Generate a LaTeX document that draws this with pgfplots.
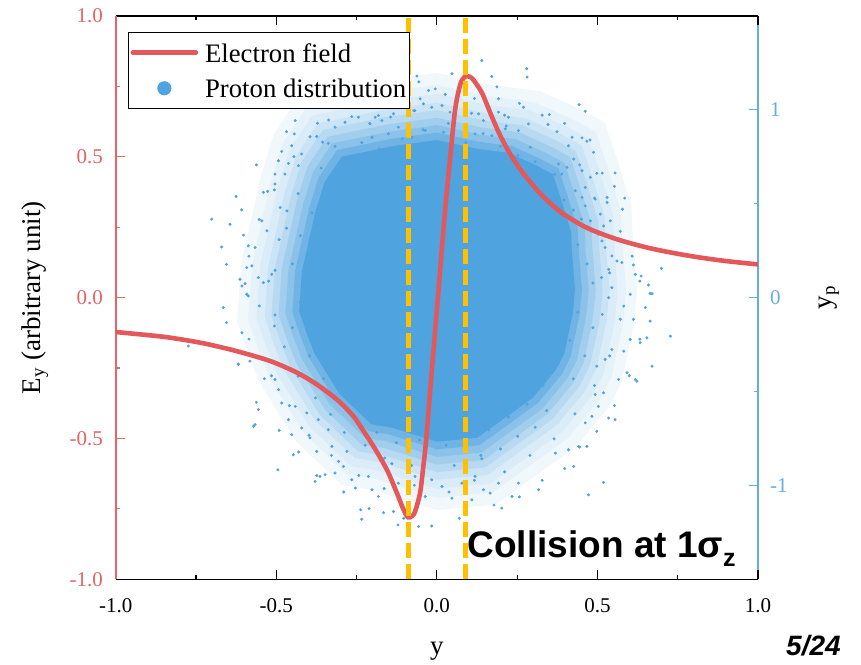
\documentclass[border=0pt]{standalone}
\usepackage{fontspec}
\setmainfont{Liberation Serif}
\newfontfamily\arialfont{Liberation Sans}
\usepackage{pgfplots}
\pgfplotsset{compat=1.18}
\definecolor{protonblue}{RGB}{79,163,222}
\definecolor{efred}{RGB}{227,88,90}
\definecolor{axred}{RGB}{228,100,100}
\definecolor{axblue}{RGB}{100,172,225}
\definecolor{gold}{RGB}{255,192,0}
\pgfplotsset{
  common/.style={at={(115.7pt,84.7pt)}, anchor=south west, scale only axis,
    width=642.3pt, height=563.3pt, xmin=-1, xmax=1,
    tick align=inside, major tick length=9.5pt, minor tick length=4.5pt,
    /pgf/number format/assume math mode=true,
    tick label style={font=\fontsize{21}{21}\selectfont},
  },
  env/.style={fill=protonblue!#1, draw=none},
}
\begin{document}
\begin{tikzpicture}
\path[use as bounding box] (0pt,0pt) rectangle (861pt,664pt);
% ---------------- proton distribution (right axis) ----------------
\begin{axis}[common, ymin=-1.5, ymax=1.5, axis x line=none, axis y line*=right,
  ytick={-1,0,1}, minor ytick={-0.5,0.5},
  y axis line style={axblue, line width=1.6pt},
  y tick style={axblue, line width=1.2pt},
  yticklabel style={text=axblue, inner sep=0pt, xshift=12pt},
  ylabel={y\textsubscript{p}},
  every axis y label/.style={at={(axis description cs:1.1105,0.5)}, anchor=center, rotate=90, font=\fontsize{27}{27}\selectfont},
]
% density envelopes of the proton cloud (outermost first)
\addplot[env=8] coordinates {
(0.624,0.044) (0.610,0.324) (0.606,0.488) (0.563,0.731) (0.523,0.933) (0.448,1.002) (0.322,1.100) (0.184,1.129) (0.000,1.197) (-0.194,1.152) (-0.429,1.069) (-0.508,0.869) (-0.548,0.647) (-0.609,0.185) (-0.622,-0.124) (-0.590,-0.284) (-0.552,-0.452) (-0.439,-0.765) (-0.296,-0.997) (-0.204,-1.023) (0.000,-1.132) (0.183,-1.102) (0.336,-0.913) (0.434,-0.793) (0.537,-0.580) (0.576,-0.449) (0.613,-0.145) (0.624,0.044)};
\addplot[env=14] coordinates {
(0.589,0.044) (0.577,0.308) (0.573,0.463) (0.532,0.693) (0.495,0.884) (0.423,0.950) (0.304,1.041) (0.174,1.069) (0.000,1.133) (-0.184,1.091) (-0.406,1.013) (-0.480,0.824) (-0.518,0.614) (-0.575,0.177) (-0.588,-0.115) (-0.558,-0.266) (-0.522,-0.425) (-0.415,-0.720) (-0.279,-0.940) (-0.193,-0.964) (0.000,-1.067) (0.173,-1.038) (0.318,-0.860) (0.410,-0.746) (0.507,-0.545) (0.544,-0.422) (0.580,-0.134) (0.589,0.044)};
\addplot[env=21] coordinates {
(0.563,0.044) (0.552,0.297) (0.548,0.445) (0.508,0.665) (0.473,0.847) (0.405,0.910) (0.291,0.998) (0.166,1.024) (0.000,1.085) (-0.176,1.045) (-0.388,0.970) (-0.459,0.789) (-0.495,0.589) (-0.550,0.171) (-0.562,-0.108) (-0.533,-0.252) (-0.499,-0.404) (-0.397,-0.687) (-0.267,-0.897) (-0.185,-0.920) (0.000,-1.018) (0.165,-0.991) (0.304,-0.821) (0.392,-0.712) (0.485,-0.519) (0.520,-0.401) (0.554,-0.126) (0.563,0.044)};
\addplot[env=30] coordinates {
(0.538,0.044) (0.526,0.285) (0.523,0.427) (0.485,0.637) (0.451,0.810) (0.386,0.870) (0.278,0.954) (0.159,0.979) (0.000,1.038) (-0.168,0.999) (-0.370,0.928) (-0.438,0.755) (-0.473,0.564) (-0.525,0.165) (-0.536,-0.101) (-0.509,-0.239) (-0.476,-0.384) (-0.379,-0.654) (-0.255,-0.854) (-0.176,-0.876) (0.000,-0.970) (0.158,-0.944) (0.290,-0.781) (0.374,-0.677) (0.463,-0.494) (0.496,-0.381) (0.529,-0.119) (0.538,0.044)};
\addplot[env=41] coordinates {
(0.516,0.044) (0.505,0.276) (0.502,0.411) (0.466,0.613) (0.433,0.780) (0.371,0.837) (0.266,0.918) (0.152,0.942) (0.000,0.998) (-0.161,0.961) (-0.355,0.892) (-0.420,0.727) (-0.454,0.543) (-0.504,0.160) (-0.515,-0.095) (-0.488,-0.227) (-0.457,-0.366) (-0.364,-0.626) (-0.245,-0.818) (-0.169,-0.839) (0.000,-0.929) (0.151,-0.904) (0.278,-0.748) (0.359,-0.648) (0.444,-0.472) (0.476,-0.364) (0.508,-0.112) (0.516,0.044)};
\addplot[env=53] coordinates {
(0.495,0.044) (0.484,0.266) (0.481,0.396) (0.446,0.589) (0.415,0.749) (0.355,0.804) (0.255,0.881) (0.146,0.904) (0.000,0.958) (-0.154,0.923) (-0.340,0.857) (-0.403,0.698) (-0.435,0.522) (-0.483,0.156) (-0.493,-0.089) (-0.468,-0.216) (-0.438,-0.349) (-0.348,-0.598) (-0.235,-0.782) (-0.162,-0.802) (0.000,-0.889) (0.145,-0.865) (0.267,-0.715) (0.344,-0.620) (0.426,-0.451) (0.457,-0.347) (0.486,-0.106) (0.495,0.044)};
\addplot[env=66] coordinates {
(0.473,0.044) (0.463,0.256) (0.460,0.381) (0.427,0.565) (0.397,0.718) (0.340,0.771) (0.244,0.845) (0.140,0.867) (0.000,0.919) (-0.147,0.884) (-0.326,0.822) (-0.385,0.670) (-0.416,0.502) (-0.462,0.151) (-0.472,-0.084) (-0.448,-0.205) (-0.419,-0.332) (-0.333,-0.570) (-0.224,-0.746) (-0.155,-0.766) (0.000,-0.848) (0.139,-0.825) (0.255,-0.682) (0.329,-0.591) (0.407,-0.429) (0.437,-0.330) (0.465,-0.099) (0.473,0.044)};
\addplot[env=82] coordinates {
(0.452,0.044) (0.442,0.247) (0.439,0.365) (0.407,0.542) (0.379,0.688) (0.324,0.738) (0.233,0.808) (0.133,0.829) (0.000,0.879) (-0.141,0.846) (-0.311,0.786) (-0.368,0.641) (-0.397,0.481) (-0.441,0.146) (-0.450,-0.078) (-0.427,-0.193) (-0.400,-0.315) (-0.318,-0.542) (-0.214,-0.710) (-0.148,-0.729) (0.000,-0.808) (0.132,-0.786) (0.244,-0.649) (0.314,-0.562) (0.389,-0.408) (0.417,-0.313) (0.444,-0.093) (0.452,0.044)};
% dense core
\addplot[env=100] coordinates {
(0.430,0.044) (0.421,0.237) (0.418,0.350) (0.388,0.518) (0.361,0.657) (0.309,0.705) (0.222,0.772) (0.127,0.792) (0.000,0.839) (-0.134,0.808) (-0.296,0.751) (-0.350,0.613) (-0.378,0.460) (-0.420,0.141) (-0.429,-0.072) (-0.407,-0.182) (-0.381,-0.298) (-0.303,-0.514) (-0.204,-0.674) (-0.141,-0.692) (0.000,-0.767) (0.126,-0.746) (0.232,-0.616) (0.299,-0.533) (0.370,-0.386) (0.397,-0.296) (0.423,-0.086) (0.430,0.044)};
% individual protons
\addplot[only marks, mark=*, mark size=1.3pt, protonblue, mark options={draw=none}] coordinates {
(-0.441,0.943) (-0.372,0.929) (-0.317,0.908) (-0.265,0.964) (-0.244,0.961) (-0.286,0.934) (-0.444,0.872) (-0.395,0.857) (-0.356,0.828) (-0.338,0.822) (-0.483,0.779) (-0.452,0.809) (-0.421,0.765) (-0.493,0.729) (-0.462,0.715) (-0.431,0.703) (-0.504,0.658) (-0.473,0.658) (-0.625,0.539) (-0.540,0.561) (-0.527,0.566) (-0.504,0.605) (-0.701,0.418) (-0.644,0.391) (-0.670,0.270) (-0.602,0.333) (-0.587,0.276) (-0.566,0.267) (-0.545,0.409) (-0.529,0.356) (-0.592,0.160) (-0.576,0.169) (-0.613,0.098) (-0.597,0.075) (-0.587,0.009) (-0.556,0.107) (-0.540,0.080) (-0.514,0.124) (-0.488,0.480) (-0.467,0.462)
(-0.607,-0.187) (-0.618,-0.356) (-0.582,-0.338) (-0.556,-0.596) (-0.566,-0.676) (-0.537,-0.432) (-0.504,-0.436) (-0.493,-0.490) (-0.483,-0.561) (-0.462,-0.650) (-0.452,-0.730) (-0.447,-0.837) (-0.495,-0.917) (-0.421,-0.694) (-0.395,-0.747) (-0.379,-0.979) (-0.364,-0.952) (-0.348,-0.943) (-0.317,-0.934) (-0.306,-0.872) (-0.291,-0.899) (-0.280,-0.819) (-0.265,-0.970) (-0.254,-1.014) (-0.237,-1.130) (-0.234,-1.180) (-0.374,-0.819) (-0.405,-0.614) (-0.369,-0.650) (-0.338,-0.703) (-0.327,-0.792) (-0.441,-0.579)
(-0.166,-1.145) (-0.121,-1.210) (-0.057,-1.219) (-0.016,-1.216) (-0.135,-1.139) (-0.036,-1.059) (0.047,-1.068) (0.109,-1.077) (0.145,-1.023) (0.166,-1.041) (0.192,-0.988) (0.202,-1.121) (0.234,-1.059) (0.254,-0.988) (-0.202,-1.023) (-0.182,-1.059) (0.016,-1.006) (0.078,-0.988) (0.119,-0.952) (-0.120,-0.988) (-0.068,-0.952) (-0.016,-0.970) (-0.213,-0.952)
(0.727,-0.205) (0.664,-0.125) (0.612,-0.116) (0.633,-0.240) (0.654,-0.214) (0.670,-0.365) (0.592,-0.400) (0.618,-0.436) (0.566,-0.436) (0.555,-0.650) (0.535,-0.641) (0.519,-0.507) (0.498,-0.712) (0.503,-0.579) (0.467,-0.792) (0.441,-0.792) (0.426,-0.899) (0.519,-0.984) (0.472,-1.050) (0.410,-0.810) (0.369,-0.828) (0.317,-1.023) (0.602,-0.223) (0.582,-0.285) (0.545,-0.276) (0.493,-0.516) (0.483,-0.632) (0.462,-0.667) (0.498,-0.365) (0.524,-0.329)
(0.443,1.028) (0.462,0.993) (0.350,0.975) (0.346,0.922) (0.421,0.854) (0.452,0.851) (0.467,0.833) (0.410,0.809) (0.488,0.774) (0.426,0.738) (0.555,0.664) (0.498,0.662) (0.478,0.641) (0.452,0.676) (0.578,0.471) (0.530,0.534) (0.530,0.507) (0.509,0.445) (0.493,0.525) (0.462,0.587) (0.540,0.409) (0.519,0.382) (0.514,0.302) (0.524,0.267) (0.545,0.222) (0.561,0.195) (0.576,0.187) (0.612,0.174) (0.618,0.124) (0.636,0.115) (0.699,0.156) (0.659,0.067) (0.670,0.021) (0.602,0.018) (0.582,-0.045) (0.535,0.151) (0.513,0.107) (0.545,0.053) (0.535,0.000) (0.379,0.712) (0.405,0.694) (0.389,0.658) (0.431,0.569) (0.452,0.534) (0.462,0.489) (0.478,0.409) (0.483,0.356) (0.503,0.338)
(-0.005,1.112) (0.026,1.082) (-0.026,1.103) (0.171,1.178) (0.270,1.014) (0.192,1.059) (-0.052,1.059) (-0.042,1.032) (-0.182,0.970) (-0.192,0.961) (-0.208,0.925) (-0.171,0.943) (-0.135,0.979) (-0.120,0.908) (-0.068,0.996) (-0.016,1.014) (0.016,1.023) (0.041,0.988) (0.130,0.979) (0.145,0.943) (0.192,0.988) (0.223,0.961) (0.285,0.925) (0.254,0.890) (0.213,0.899) (0.171,0.863) (0.119,0.872) (0.021,0.881) (-0.036,0.890) (-0.078,0.854) (-0.151,0.872) (-0.202,0.854) (0.291,0.801)
(0.280,1.219) (-0.062,1.180) (-0.665,-0.053) (-0.607,0.062) (-0.592,0.018) (-0.774,-0.258) (-0.571,-0.685) (0.623,-0.445) (0.664,0.023) (0.649,-0.053)
(0.414,0.112) (0.439,0.282) (0.378,0.418) (0.468,0.180) (0.342,0.554) (0.396,0.520) (0.288,0.690) (0.252,0.758) (0.198,0.806) (0.144,0.874) (0.090,0.826) (0.036,0.928) (0.306,0.724) (0.450,0.418) (0.486,0.078) (0.216,0.914) (0.108,0.982) (0.367,0.656) (0.425,0.466) (0.162,0.758)
(-0.043,0.894) (-0.108,0.846) (-0.180,0.792) (-0.234,0.826) (-0.288,0.670) (-0.342,0.588) (-0.389,0.452) (-0.425,0.330) (-0.450,0.180) (-0.403,0.078) (-0.144,0.962) (-0.259,0.738) (-0.360,0.690) (-0.468,0.370) (-0.504,0.146) (-0.072,0.996) (-0.317,0.806) (-0.432,0.554) (-0.209,0.928) (-0.378,0.248)
(-0.425,-0.024) (-0.450,-0.160) (-0.396,-0.310) (-0.353,-0.432) (-0.306,-0.554) (-0.252,-0.636) (-0.187,-0.718) (-0.126,-0.772) (-0.054,-0.758) (-0.475,-0.262) (-0.378,-0.534) (-0.288,-0.718) (-0.162,-0.854) (-0.079,-0.894) (-0.504,-0.092) (-0.223,-0.786) (-0.432,-0.418) (-0.331,-0.622) (-0.108,-0.670) (-0.389,-0.106)
(0.029,-0.786) (0.090,-0.738) (0.162,-0.704) (0.223,-0.636) (0.281,-0.568) (0.331,-0.466) (0.378,-0.350) (0.414,-0.228) (0.439,-0.078) (0.054,-0.894) (0.137,-0.840) (0.252,-0.738) (0.342,-0.602) (0.425,-0.432) (0.486,-0.160) (0.198,-0.806) (0.461,-0.310) (0.306,-0.690) (0.396,-0.058) (0.108,-0.650)
(0.538,0.132) (0.571,0.353) (0.491,0.530) (0.608,0.221) (0.445,0.707) (0.515,0.663) (0.374,0.884) (0.328,0.972) (0.257,1.035) (0.187,1.123) (0.117,1.061) (0.047,1.193) (0.398,0.928) (0.585,0.530) (0.632,0.088) (0.281,1.175) (0.140,1.263) (0.477,0.840) (0.553,0.593) (0.211,0.972)
(-0.056,1.149) (-0.140,1.087) (-0.234,1.016) (-0.304,1.061) (-0.374,0.858) (-0.445,0.751) (-0.506,0.574) (-0.553,0.416) (-0.585,0.221) (-0.524,0.088) (-0.187,1.237) (-0.337,0.946) (-0.468,0.884) (-0.608,0.468) (-0.655,0.177) (-0.094,1.282) (-0.412,1.035) (-0.562,0.707) (-0.272,1.193) (-0.491,0.309)
(-0.553,-0.044) (-0.585,-0.221) (-0.515,-0.416) (-0.459,-0.575) (-0.398,-0.733) (-0.328,-0.840) (-0.243,-0.947) (-0.164,-1.017) (-0.070,-0.999) (-0.618,-0.354) (-0.491,-0.707) (-0.374,-0.947) (-0.211,-1.123) (-0.103,-1.175) (-0.655,-0.133) (-0.290,-1.035) (-0.562,-0.557) (-0.430,-0.822) (-0.140,-0.884) (-0.506,-0.151)
(0.038,-1.035) (0.117,-0.973) (0.211,-0.928) (0.290,-0.840) (0.365,-0.752) (0.430,-0.619) (0.491,-0.468) (0.538,-0.310) (0.571,-0.115) (0.070,-1.175) (0.178,-1.105) (0.328,-0.973) (0.445,-0.796) (0.553,-0.575) (0.632,-0.221) (0.257,-1.061) (0.599,-0.416) (0.398,-0.910) (0.515,-0.089) (0.140,-0.858)
};
\end{axis}
% ---------------- electron field (left axis) ----------------
\begin{axis}[common, ymin=-1, ymax=1, axis y line*=left, axis x line*=box,
  xtick={-1,-0.5,0,0.5,1}, minor xtick={-0.75,-0.25,0.25,0.75},
  ytick={-1,-0.5,0,0.5,1}, minor ytick={-0.75,-0.25,0.25,0.75},
  xtick pos=both, xticklabel pos=lower,
  x axis line style={black, line width=1.6pt},
  y axis line style={axred, line width=1.6pt},
  x tick style={black, line width=1.2pt},
  y tick style={axred, line width=1.2pt},
  xticklabel style={/pgf/number format/fixed, /pgf/number format/fixed zerofill, /pgf/number format/precision=1, inner sep=0pt, yshift=-18.7pt},
  yticklabel style={/pgf/number format/fixed, /pgf/number format/fixed zerofill, /pgf/number format/precision=1, text=axred, inner sep=0pt, xshift=-12.7pt},
  xlabel={y},
  every axis x label/.style={at={(axis description cs:0.5,-0.128)}, anchor=center, font=\fontsize{27}{27}\selectfont},
  ylabel={E\textsubscript{y} (arbitrary unit)},
  every axis y label/.style={at={(axis description cs:-0.1256,0.5)}, anchor=center, rotate=90, font=\fontsize{27}{27}\selectfont},
  legend style={at={(0,1)}, anchor=north west, xshift=12.3pt, yshift=-16pt, draw=black, line width=1.1pt, fill=white,
    inner xsep=2pt, inner ysep=6pt, row sep=7.7pt, column sep=5.5pt,
    font=\fontsize{26.7}{26.7}\selectfont, nodes={inner sep=1.5pt, text height=22pt, text depth=3pt}},
  legend cell align=left,
  legend image code/.code={\draw[mark repeat=2, mark phase=2, #1] plot coordinates {(0pt,0pt) (31.5pt,0pt) (63pt,0pt)};},
]
\addplot[efred, line width=4.6pt, smooth, tension=0.5, line cap=round] coordinates {
(-1.000,-0.122) (-0.900,-0.133) (-0.831,-0.142) (-0.727,-0.162) (-0.623,-0.190) (-0.519,-0.225) (-0.436,-0.266) (-0.374,-0.308) (-0.312,-0.361) (-0.270,-0.408) (-0.249,-0.438) (-0.198,-0.527) (-0.156,-0.610) (-0.125,-0.692) (-0.104,-0.752) (-0.090,-0.780) (-0.078,-0.776) (-0.068,-0.760) (-0.052,-0.692) (-0.042,-0.598) (-0.033,-0.503) (-0.023,-0.361) (-0.010,-0.182) (0.000,-0.044) (0.012,0.122) (0.026,0.314) (0.041,0.491) (0.057,0.669) (0.073,0.757) (0.084,0.781) (0.093,0.787) (0.103,0.784) (0.114,0.773) (0.140,0.728) (0.166,0.657) (0.192,0.588) (0.218,0.530) (0.245,0.480) (0.270,0.440) (0.300,0.398) (0.330,0.360) (0.363,0.325) (0.394,0.297) (0.450,0.258) (0.498,0.233) (0.570,0.204) (0.654,0.178) (0.730,0.160) (0.810,0.144) (0.900,0.130) (1.000,0.118)};
\addlegendimage{only marks, mark=*, mark size=6.5pt, protonblue, mark options={draw=none}}
\addplot[gold, line width=5.2pt, dash pattern=on 15pt off 6pt, forget plot] coordinates {(-0.089,-1) (-0.089,1)};
\addplot[gold, line width=5.2pt, dash pattern=on 15pt off 6pt, forget plot] coordinates {(0.090,-1) (0.090,1)};
\node[anchor=base west, inner sep=0pt, font=\arialfont\bfseries\fontsize{37}{37}\selectfont] at (axis cs:0.095,-0.923) {Collision at 1σ\raisebox{-8.4pt}{\fontsize{25}{25}\selectfont z}};
\legend{Electron field, Proton distribution}
\end{axis}
\node[anchor=base west, inner sep=0pt, font=\arialfont\bfseries\itshape\fontsize{28}{28}\selectfont] at (786pt,9pt) {5/24};
\end{tikzpicture}
\end{document}
